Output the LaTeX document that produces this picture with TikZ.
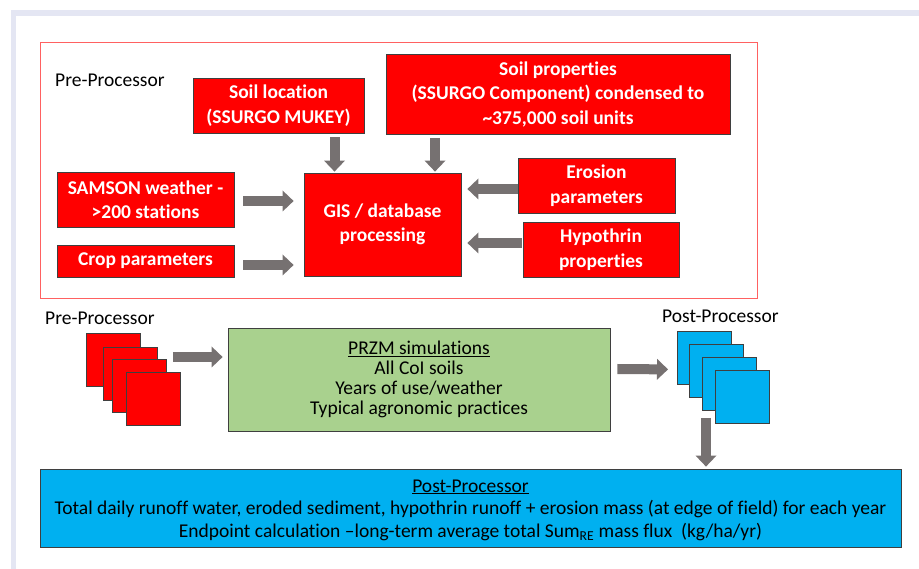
\documentclass[tikz,border=0pt]{standalone}
\usepackage{fontspec}
\setmainfont{Carlito}[RawFeature={-liga;-clig;-calt;-dlig}]
\usetikzlibrary{arrows.meta}
\definecolor{boxred}{HTML}{FF0000}
\definecolor{boxedge}{HTML}{3F3F3F}
\definecolor{outred}{HTML}{FF6161}
\definecolor{boxgreen}{HTML}{A9D18E}
\definecolor{boxblue}{HTML}{00B0F0}
\definecolor{arrowgray}{HTML}{767171}
\definecolor{framecol}{HTML}{E4E6F3}
\tikzset{
  redbox/.style={draw=boxedge, fill=boxred, line width=0.8pt, text=white,
    font={\bfseries\fontsize{19.5}{24.5}\selectfont}, align=center, inner sep=0pt},
  sheet/.style={draw=boxedge, line width=0.8pt, minimum width=54pt, minimum height=53pt, inner sep=0pt, anchor=north west},
  lbl/.style={font={\fontsize{19.5}{24}\selectfont}, anchor=west, inner sep=0pt},
  barrow/.style={arrowgray, line width=10pt, -{Triangle[width=21pt,length=11pt,line width=0pt]}},
}
\begin{document}
\begin{tikzpicture}[x=1pt,y=-1pt]
\useasboundingbox (0,0) rectangle (919,569);
% slide frame
\fill[framecol] (11,10) rectangle (919,16);
\fill[framecol] (11,10) rectangle (16,569);
% pre-processor outline
\node[draw=outred, line width=0.9pt, minimum width=717pt, minimum height=256pt, inner sep=0pt] (outline) at (398.5,170) {};
\node[lbl] (prelbl) at (55,80) {Pre-Processor};
% red boxes
\node[redbox, minimum width=171pt, minimum height=55pt] (sl) at (278.5,105.5) {Soil location\\(SSURGO MUKEY)};
\node[redbox, minimum width=344pt, minimum height=80pt] (sp) at (558,94) {Soil properties\\(SSURGO Component) condensed to\\\textasciitilde375,000 soil units};
\node[redbox, minimum width=177pt, minimum height=55pt] (sam) at (145.5,199.5) {SAMSON weather -\\>200 stations};
\node[redbox, minimum width=177pt, minimum height=32pt] (crop) at (145.5,261) {Crop parameters};
\node[redbox, minimum width=157pt, minimum height=103pt] (gis) at (382.5,224.5) {GIS / database\\processing};
\node[redbox, minimum width=157pt, minimum height=55pt] (ero) at (596.5,185.5) {Erosion\\parameters};
\node[redbox, minimum width=156pt, minimum height=55pt] (hyp) at (601,249.5) {Hypothrin\\properties};
% arrows into GIS
\draw[barrow] ([xshift=56pt,yshift=-4pt]sl.south) -- ([xshift=-48pt,yshift=1pt]gis.north);
\draw[barrow] ([xshift=-123pt,yshift=-4pt]sp.south) -- ([xshift=52.5pt,yshift=1pt]gis.north);
\draw[barrow] ([xshift=9pt,yshift=-1.5pt]sam.east) -- ([xshift=-10pt,yshift=23.5pt]gis.west);
\draw[barrow] ([xshift=9pt,yshift=-4pt]crop.east) -- ([xshift=-10pt,yshift=-40.5pt]gis.west);
\draw[barrow] ([yshift=-3.5pt]ero.west) -- ([xshift=6pt,yshift=35.5pt]gis.east);
\draw[barrow] ([xshift=-1pt,yshift=6.5pt]hyp.west) -- ([xshift=6pt,yshift=-18.5pt]gis.east);
% lower flow
\node[lbl] (prelbl2) at (45,318) {Pre-Processor};
\node[sheet, fill=boxred] (r1) at (86,333) {};
\node[sheet, fill=boxred] (r2) at (103,347) {};
\node[sheet, fill=boxred] (r3) at (112,359) {};
\node[sheet, fill=boxred] (r4) at (126,372) {};
\node[draw=boxedge, fill=boxgreen, line width=0.8pt, minimum width=382pt, minimum height=103pt, inner sep=0pt,
  font={\fontsize{19.5}{20}\selectfont}, align=center] (prz) at (419,379.5)
  {\underline{PRZM simulations}\\All CoI soils\\Years of use/weather\\Typical agronomic practices};
\draw[barrow] ([xshift=6pt,yshift=2pt]r3.north east) -- ([xshift=-5pt,yshift=22.5pt]prz.west);
\node[lbl] (postlbl) at (662,316) {Post-Processor};
\node[sheet, fill=boxblue] (b1) at (677,331) {};
\node[sheet, fill=boxblue] (b2) at (689,344) {};
\node[sheet, fill=boxblue] (b3) at (702,357) {};
\node[sheet, fill=boxblue] (b4) at (715,370) {};
\draw[barrow] ([xshift=7pt,yshift=10.5pt]prz.east) -- ([xshift=-9pt,yshift=-11.5pt]b1.west);
\node[draw=boxedge, fill=boxblue, line width=0.8pt, minimum width=861pt, minimum height=78pt, inner sep=0pt] (post) at (470.5,508) {};
\node[font={\fontsize{19.5}{22.5}\selectfont}, align=center, inner sep=0pt] (posttext) at ([yshift=-2pt]post.center)
  {\underline{Post-Processor}\\Total daily runoff water, eroded sediment, hypothrin runoff + erosion mass (at edge of field) for each year\\Endpoint calculation –long-term average total Sum\textsubscript{RE} mass flux\ \ (kg/ha/yr)};
\draw[barrow] ([xshift=4pt,yshift=-7pt]b3.south west) -- ([xshift=235.5pt,yshift=2pt]post.north);
\end{tikzpicture}
\end{document}
